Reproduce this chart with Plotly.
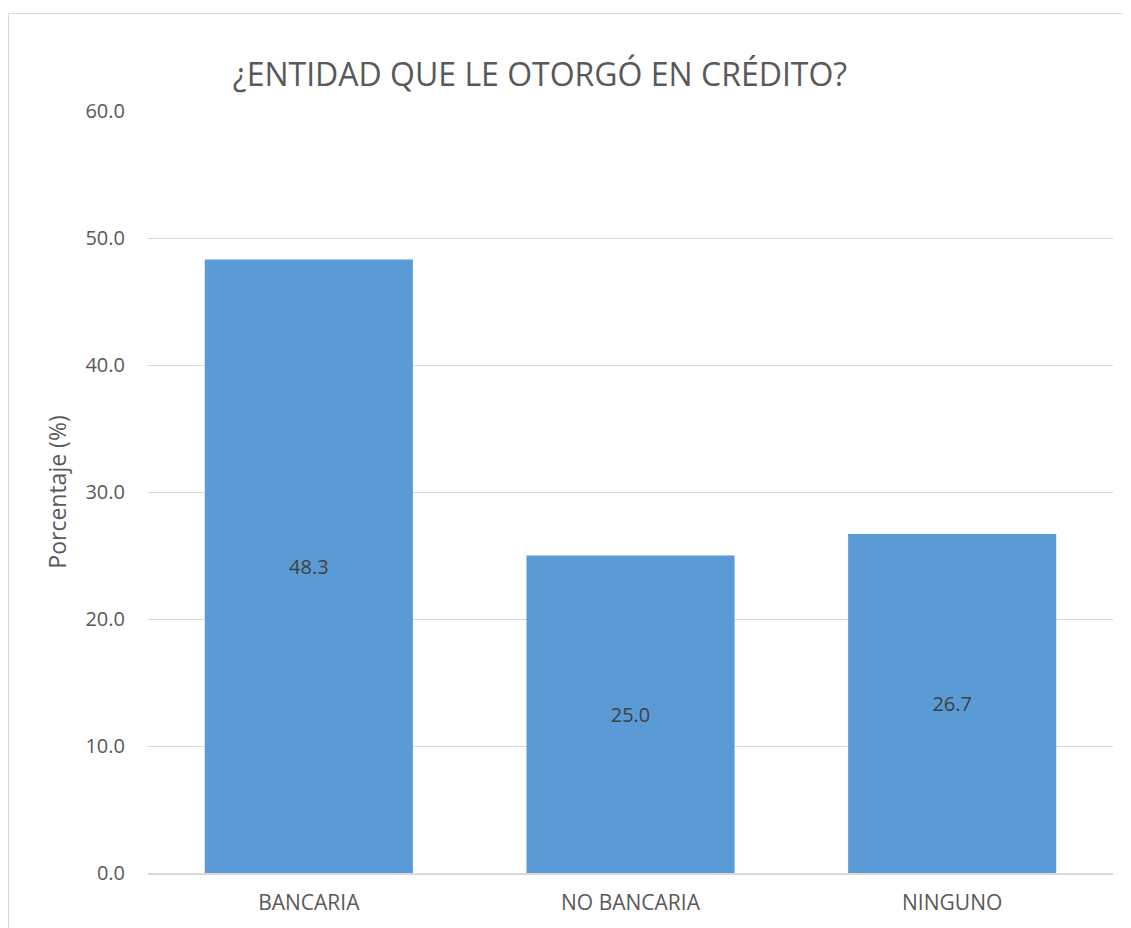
import plotly.graph_objects as go

categories = ["BANCARIA", "NO BANCARIA", "NINGUNO"]
values = [48.3, 25.0, 26.7]
y_ticks = [0, 10, 20, 30, 40, 50, 60]
y_tick_labels = ["0.0", "10.0", "20.0", "30.0", "40.0", "50.0", "60.0"]

# page has an 8px body margin, so the figure is 8px smaller than the window
W, H = 1123, 920
ml, mr, mt, mb = 140, 18, 103, 55

fig = go.Figure(go.Bar(
    x=categories, y=values,
    marker=dict(color="#5B9BD5", line=dict(width=0)),
    text=[f"{v:.1f}" for v in values],
    textposition="inside", insidetextanchor="middle",
    textfont=dict(color="#404040", size=20, family="Open Sans"),
    cliponaxis=False,
))

pw = W - ml - mr
ph = H - mt - mb
def px_to_paper_x(px):
    return (px - ml) / pw
def px_to_paper_y(py):
    return (H - mb - py) / ph

fig.add_shape(type="line", xref="paper", yref="paper",
              x0=px_to_paper_x(0.5), x1=px_to_paper_x(0.5),
              y0=px_to_paper_y(5.5), y1=px_to_paper_y(925),
              line=dict(color="#d9d9d9", width=1))
fig.add_shape(type="line", xref="paper", yref="paper",
              x0=px_to_paper_x(0.5), x1=px_to_paper_x(1130),
              y0=px_to_paper_y(5.5), y1=px_to_paper_y(5.5),
              line=dict(color="#d9d9d9", width=1))

fig.update_layout(
    width=W, height=H,
    margin=dict(l=ml, r=mr, t=mt, b=mb),
    paper_bgcolor="white", plot_bgcolor="white",
    bargap=0.353,
    font=dict(family="Open Sans", color="#595959", size=20),
    title=dict(text="¿ENTIDAD QUE LE OTORGÓ EN CRÉDITO?",
               x=532 / W, xanchor="center", y=1 - 67 / H, yanchor="middle",
               font=dict(size=32, color="#595959", family="Open Sans")),
    showlegend=False,
)
fig.update_xaxes(showgrid=False, showline=True, linecolor="#d9d9d9", linewidth=1.5,
                 ticks="", ticklabelstandoff=10,
                 tickfont=dict(size=21, color="#595959"))
fig.update_yaxes(range=[0, 60], tickvals=y_ticks, ticktext=y_tick_labels,
                 showgrid=True, gridcolor="#d9d9d9", gridwidth=1,
                 zeroline=False, showline=False, ticks="",
                 ticklabelstandoff=22,
                 tickfont=dict(size=20, color="#595959"),
                 title=dict(text="Porcentaje (%)", standoff=12,
                            font=dict(size=23, color="#595959")))

fig.write_html("out.html")
